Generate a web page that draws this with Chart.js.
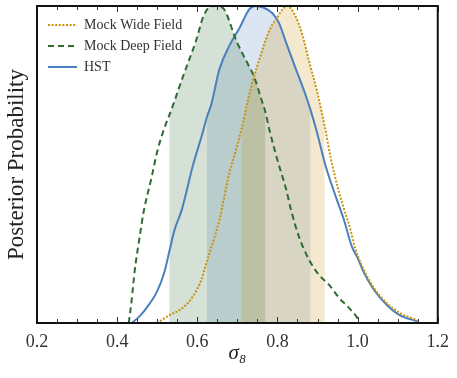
<!DOCTYPE html>
<html>
<head>
<meta charset="utf-8">
<script src="https://cdn.jsdelivr.net/npm/chart.js@4.4.1/dist/chart.umd.min.js"></script>
<style>
  html, body { margin: 0; padding: 0; background: #fff; }
  #wrap { width: 457px; height: 378px; }
</style>
</head>
<body>
<div id="wrap"><canvas id="PosteriorChart" width="457" height="378"></canvas></div>
<script>
// sigma_8 values and posterior (normalised to peak)
var sigmaWide = [0.499, 0.531, 0.563, 0.588, 0.610, 0.625, 0.643, 0.655, 0.680, 0.693, 0.710, 0.724, 0.737, 0.760, 0.780, 0.800, 0.815, 0.825, 0.844, 0.862, 0.880, 0.899, 0.918, 0.933, 0.950, 0.966, 0.981, 0.994, 1.016, 1.041, 1.073, 1.105, 1.148];
var probWide  = [0.0, 0.025, 0.047, 0.082, 0.136, 0.199, 0.271, 0.325, 0.473, 0.53, 0.61, 0.69, 0.757, 0.852, 0.924, 0.965, 0.993, 1.0, 0.97, 0.91, 0.82, 0.73, 0.62, 0.52, 0.43, 0.36, 0.30, 0.235, 0.167, 0.11, 0.063, 0.032, 0.009];

var sigmaDeep = [0.429, 0.436, 0.444, 0.456, 0.466, 0.486, 0.501, 0.518, 0.530, 0.543, 0.558, 0.573, 0.598, 0.613, 0.625, 0.645, 0.663, 0.673, 0.693, 0.700, 0.725, 0.742, 0.760, 0.770, 0.780, 0.800, 0.822, 0.834, 0.854, 0.879, 0.904, 0.929, 0.954, 0.979, 0.999, 1.005];
var probDeep  = [0.0, 0.07, 0.167, 0.27, 0.35, 0.46, 0.546, 0.615, 0.655, 0.70, 0.755, 0.808, 0.895, 0.96, 0.99, 1.0, 0.995, 0.975, 0.905, 0.883, 0.82, 0.776, 0.705, 0.665, 0.609, 0.514, 0.42, 0.356, 0.271, 0.199, 0.151, 0.12, 0.079, 0.047, 0.016, 0.0];

var sigmaHST = [0.436, 0.455, 0.473, 0.499, 0.518, 0.531, 0.543, 0.561, 0.588, 0.613, 0.624, 0.635, 0.655, 0.680, 0.705, 0.730, 0.745, 0.765, 0.787, 0.804, 0.822, 0.847, 0.872, 0.883, 0.897, 0.921, 0.946, 0.966, 0.986, 0.999, 1.016, 1.041, 1.073, 1.105, 1.150];
var probHST  = [0.0, 0.02, 0.047, 0.098, 0.161, 0.23, 0.293, 0.356, 0.492, 0.599, 0.65, 0.69, 0.80, 0.875, 0.93, 0.99, 1.0, 0.995, 0.978, 0.946, 0.883, 0.798, 0.713, 0.67, 0.609, 0.492, 0.397, 0.325, 0.24, 0.208, 0.158, 0.104, 0.057, 0.025, 0.005];

// 68% intervals (shaded bands)
var intervalWide = [0.710, 0.918];
var intervalDeep = [0.530, 0.770];
var intervalHST  = [0.624, 0.883];

var seriesNames = ["Mock Wide Field", "Mock Deep Field", "HST"];
var xTicks = [0.2, 0.4, 0.6, 0.8, 1.0, 1.2];

var gold = "#c9930c", green = "#2f6b33", blue = "#4a80bd";
var serif = "'Liberation Serif', 'DejaVu Serif', serif";

function toPoints(xs, ys) {
    var pts = [];
    for (var i = 0; i < xs.length; i++) pts.push({ x: xs[i], y: ys[i] });
    return pts;
}

function bandFill(xs, ys, interval, color) {
    return {
        data: toPoints(xs, ys),
        borderWidth: 0,
        borderColor: "rgba(0,0,0,0)",
        backgroundColor: "rgba(0,0,0,0)",
        pointRadius: 0,
        cubicInterpolationMode: "monotone",
        fill: "origin",
        segment: {
            backgroundColor: function (c) {
                var a = c.p0.parsed.x, b = c.p1.parsed.x;
                return (a >= interval[0] - 1e-9 && b <= interval[1] + 1e-9) ? color : "rgba(0,0,0,0)";
            }
        }
    };
}

// inward ticks on top/bottom + black frame, legend nudged into place
var frameTicks = {
    id: "frameTicks",
    afterLayout: function (chart) {
        if (chart.legend) {
            chart.legend.left += 4;
            chart.legend.top += 11;
        }
    },
    afterDraw: function (chart) {
        var ctx = chart.ctx, a = chart.chartArea, xs = chart.scales.x;
        ctx.save();
        ctx.strokeStyle = "#333";
        ctx.lineWidth = 1;
        for (var i = 0; i <= 20; i++) {
            var v = 0.2 + i * 0.05;
            var px = Math.round(xs.getPixelForValue(v)) + 0.5;
            var len = (i % 4 === 0) ? 6 : 4;
            ctx.beginPath();
            ctx.moveTo(px, a.bottom); ctx.lineTo(px, a.bottom - len);
            ctx.moveTo(px, a.top); ctx.lineTo(px, a.top + len);
            ctx.stroke();
        }
        ctx.strokeStyle = "#111";
        ctx.lineWidth = 2;
        ctx.strokeRect(a.left, a.top, a.right - a.left, a.bottom - a.top);
        ctx.restore();
    }
};

var ctx = document.getElementById("PosteriorChart").getContext("2d");
var chart = new Chart(ctx, {
    type: "line",
    data: {
        datasets: [
            {
                label: seriesNames[0],
                data: toPoints(sigmaWide, probWide),
                borderColor: gold,
                backgroundColor: "rgba(0,0,0,0)",
                borderWidth: 2,
                borderDash: [2, 1.6],
                pointRadius: 0,
                cubicInterpolationMode: "monotone",
                fill: false
            },
            {
                label: seriesNames[1],
                data: toPoints(sigmaDeep, probDeep),
                borderColor: green,
                backgroundColor: "rgba(0,0,0,0)",
                borderWidth: 2,
                borderDash: [6, 4],
                pointRadius: 0,
                cubicInterpolationMode: "monotone",
                fill: false
            },
            {
                label: seriesNames[2],
                data: toPoints(sigmaHST, probHST),
                borderColor: blue,
                backgroundColor: "rgba(0,0,0,0)",
                borderWidth: 2,
                pointRadius: 0,
                cubicInterpolationMode: "monotone",
                fill: false
            },
            bandFill(sigmaWide, probWide, intervalWide, "rgba(201,147,12,0.2)"),
            bandFill(sigmaDeep, probDeep, intervalDeep, "rgba(47,107,51,0.2)"),
            bandFill(sigmaHST, probHST, intervalHST, "rgba(74,128,189,0.2)")
        ]
    },
    options: {
        responsive: false,
        animation: false,
        layout: { padding: { top: 6, right: 18, left: 0, bottom: 0 } },
        plugins: {
            tooltip: { enabled: false },
            legend: {
                position: "chartArea",
                align: "start",
                labels: {
                    filter: function (item) { return item.datasetIndex < 3; },
                    generateLabels: function (chart) {
                        var items = Chart.defaults.plugins.legend.labels.generateLabels(chart);
                        items.forEach(function (it) {
                            var ds = chart.data.datasets[it.datasetIndex];
                            it.lineDash = ds.borderDash || [];
                            it.lineWidth = 2;
                            it.strokeStyle = ds.borderColor;
                            it.lineCap = "butt";
                        });
                        return items;
                    },
                    usePointStyle: true,
                    pointStyle: "line",
                    pointStyleWidth: 29,
                    boxHeight: 14,
                    padding: 7,
                    color: "#333",
                    font: { family: serif, size: 14 }
                }
            }
        },
        scales: {
            x: {
                type: "linear",
                min: 0.2,
                max: 1.2,
                afterFit: function (s) { s.height = 55; },
                afterBuildTicks: function (s) {
                    s.ticks = xTicks.map(function (v) { return { value: v }; });
                },
                ticks: {
                    padding: 8,
                    color: "#333",
                    font: { family: serif, size: 18 },
                    callback: function (v) { return Number(v).toFixed(1); }
                },
                grid: { display: false, drawTicks: false },
                border: { display: false },
                title: {
                    display: true,
                    text: "σ₈",
                    color: "#222",
                    padding: { top: 0, bottom: 12 },
                    font: { family: serif, size: 21, style: "italic" }
                }
            },
            y: {
                min: 0,
                max: 1.0,
                afterFit: function (s) { s.width = 37; },
                ticks: { display: false },
                grid: { display: false, drawTicks: false },
                border: { display: false },
                title: {
                    display: true,
                    text: "Posterior Probability",
                    color: "#222",
                    padding: { top: 3, bottom: 0 },
                    font: { family: serif, size: 23 }
                }
            }
        }
    },
    plugins: [frameTicks]
});
</script>
</body>
</html>
